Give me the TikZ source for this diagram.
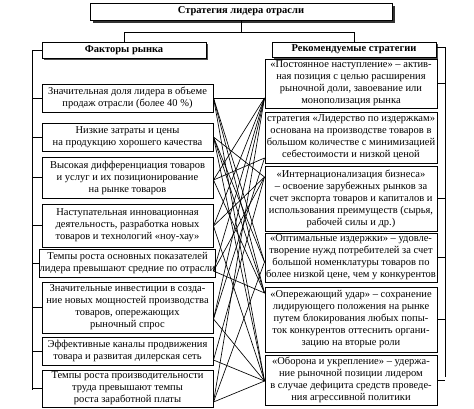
\documentclass[tikz,border=0pt]{standalone}
\usepackage{fontspec}
\setmainfont{Liberation Serif}
\begin{document}
\begin{tikzpicture}[x=1pt,y=-1pt,
  bx/.style={draw, line width=0.9pt, align=center, inner sep=0pt, font=\fontsize{10.5}{12}\selectfont, fill=white},
  lbox/.style={bx, minimum width=171pt},
  rbox/.style={bx, minimum width=172pt},
  hdr/.style={bx, font=\fontsize{10.5}{12}\selectfont\bfseries},
  conn/.style={line width=0.8pt},
  link/.style={line width=0.65pt}]
\useasboundingbox (0,0) rectangle (474,408);
% top box with shadow
\fill[black!80] (93,6) rectangle (395,23);
\node[hdr, minimum width=302pt, minimum height=17pt] (top) at (241,11.5) {Стратегия лидера отрасли};
% headers
\fill[black!70] (44,44) rectangle (208,60);
\node[hdr, minimum width=164pt, minimum height=16pt] (h1) at (124,50) {Факторы рынка};
\fill[black!70] (274,44) rectangle (438,59);
\node[hdr, minimum width=164pt, minimum height=15pt] (h2) at (354,49.5) {Рекомендуемые стратегии};
\coordinate (tj) at (241,32);
\coordinate (tl) at (124,32);
\coordinate (tr) at (354,32);
\draw[conn] (top.south) -- (tj);
\draw[conn] (tl) -- (tr);
\draw[conn] (tl) -- (h1.north);
\draw[conn] (tr) -- (h2.north);
% left boxes
\node[lbox, minimum height=28pt] (L1) at (127.5,98) {Значительная доля лидера в объеме\\продаж отрасли (более 40 \%)};
\node[lbox, minimum height=28pt] (L2) at (127.5,137) {Низкие затраты и цены\\на продукцию хорошего качества};
\node[lbox, minimum height=41pt] (L3) at (127.5,177.5) {Высокая дифференциация товаров\\и услуг и их позиционирование\\на рынке товаров};
\node[lbox, minimum height=43pt] (L4) at (127.5,225.5) {Наступательная инновационная\\деятельность, разработка новых\\товаров и технологий «ноу-хау»};
\node[lbox, minimum height=28pt] (L5) at (127.5,263) {Темпы роста основных показателей\\лидера превышают средние по отрасли};
\node[lbox, minimum height=51pt] (L6) at (127.5,307.5) {Значительные инвестиции в созда-\\ние новых мощностей производства\\товаров, опережающих\\рыночный спрос};
\node[lbox, minimum height=28pt] (L7) at (127.5,351) {Эффективные каналы продвижения\\товара и развитая дилерская сеть};
\node[lbox, minimum height=37pt] (L8) at (127.5,388.5) {Темпы роста производительности\\труда превышают темпы\\роста заработной платы};
% right boxes
\node[rbox, minimum height=49pt] (R1) at (351,83.5) {«Постоянное наступление» – актив-\\ная позиция с целью расширения\\рыночной доли, завоевание или\\монополизация рынка};
\node[rbox, minimum height=51pt] (R2) at (351,137.5) {стратегия «Лидерство по издержкам»\\основана на производстве товаров в\\большом количестве с минимизацией\\себестоимости и низкой ценой};
\node[rbox, minimum height=65pt] (R3) at (351,198.5) {«Интернационализация бизнеса»\\– освоение зарубежных рынков за\\счет экспорта товаров и капиталов и\\использования преимуществ (сырья,\\рабочей силы и др.)};
\node[rbox, minimum height=49pt] (R4) at (351,257.5) {«Оптимальные издержки» – удовле-\\творение нужд потребителей за счет\\большой номенклатуры товаров по\\более низкой цене, чем у конкурентов};
\node[rbox, minimum height=65pt] (R5) at (351,319.5) {«Опережающий удар» – сохранение\\лидирующего положения на рынке\\путем блокирования любых попы-\\ток конкурентов оттеснить органи-\\зацию на вторые роли};
\node[rbox, minimum height=50pt] (R6) at (351,380) {«Оборона и укрепление» – удержа-\\ние рыночной позиции лидером\\в случае дефицита средств проведе-\\ния агрессивной политики};
% left bracket
\coordinate (lt) at (32,50);
\coordinate (lb) at (32,390);
\draw[conn] (h1.west) -- (lt) -- (lb);
\foreach \i in {1,...,8} {\draw[conn] (L\i.west) -- (32,0 |- L\i.west);}
% right bracket
\coordinate (rt) at (445,47);
\coordinate (rb) at (445,377);
\draw[conn] (h2.east |- rt) -- (rt) -- (rb);
\foreach \i in {1,3,4,5,6} {\draw[conn] (R\i.east) -- (445,0 |- R\i.east);}
% link anchors
\coordinate (a1) at (213.5,98);
\coordinate (a2) at (213.5,137);
\coordinate (a3) at (213.5,180);
\coordinate (a4) at (213.5,226);
\coordinate (a5) at (213.5,271);
\coordinate (a6) at (213.5,319);
\coordinate (a7) at (213.5,360);
\coordinate (a8) at (213.5,402);
\coordinate (b1) at (264.5,98);
\coordinate (b2) at (264.5,158);
\coordinate (b3) at (264.5,177);
\coordinate (b4) at (264.5,262);
\coordinate (b5) at (264.5,293);
\coordinate (b6) at (264.5,381);
\foreach \s/\t in {a1/b1,a1/b4,a1/b5,a1/b6,
                   a2/b3,a2/b4,a2/b5,a2/b6,
                   a3/b1,a3/b2,a3/b5,
                   a4/b1,a4/b3,a4/b6,
                   a5/b1,a5/b3,a5/b5,
                   a6/b1,a6/b2,a6/b6,
                   a7/b3,a7/b6,
                   a8/b1,a8/b4,a8/b6}
  {\draw[link] (\s) -- (\t);}
\end{tikzpicture}
\end{document}
